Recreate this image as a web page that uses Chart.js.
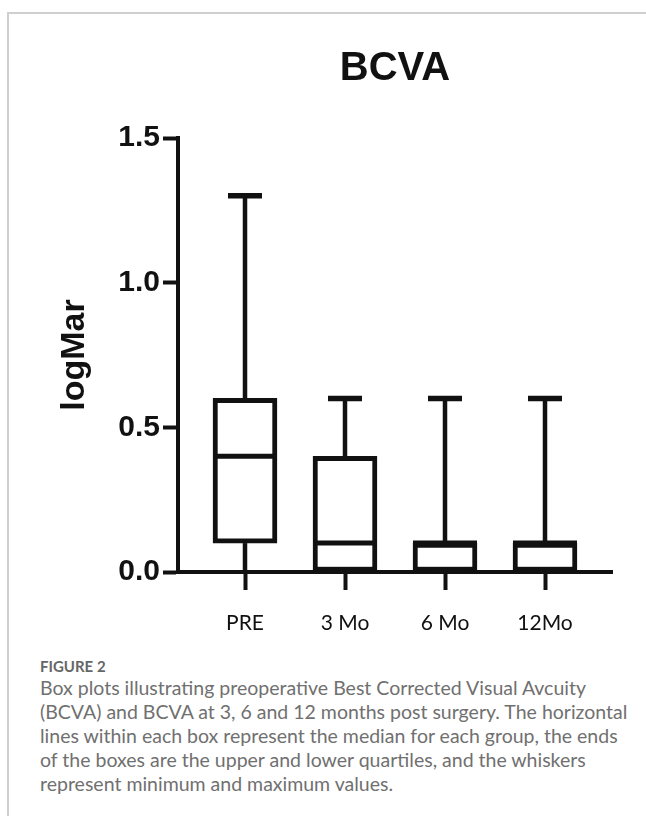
<!DOCTYPE html>
<html>
<head>
<meta charset="utf-8">
<script src="https://cdn.jsdelivr.net/npm/chart.js@4/dist/chart.umd.min.js"></script>
<style>
  html, body { margin: 0; padding: 0; background: #fff; }
  body { width: 646px; height: 816px; position: relative; overflow: hidden; }
  #frame { position: absolute; left: 7px; top: 12px; right: -5px; bottom: -5px;
           border-top: 2px solid #cfcfcf; border-left: 2px solid #cfcfcf; }
  #wrap { position: absolute; left: 0; top: 0; width: 646px; height: 640px; }
  #caption { position: absolute; left: 40px; top: 656px; width: 604px; color: #707070;
             font-family: Lato, "Open Sans", sans-serif; }
  #caption .label { font-size: 15px; line-height: 20px; font-weight: bold; color: #666; }
  #caption .text { font-size: 19.5px; line-height: 24px; white-space: nowrap; }
</style>
</head>
<body>
<div id="frame"></div>
<div id="wrap"><canvas id="bcvaChart"></canvas></div>
<div id="caption">
  <div class="label">FIGURE 2</div>
  <div class="text">Box plots illustrating preoperative Best Corrected Visual Avcuity<br>(BCVA) and BCVA at 3, 6 and 12 months post surgery. The horizontal<br>lines within each box represent the median for each group, the ends<br>of the boxes are the upper and lower quartiles, and the whiskers<br>represent minimum and maximum values.</div>
</div>
<script>
// box plot values (logMar)
var categories = ['PRE', '3 Mo', '6 Mo', '12Mo'];
var minValues = [0, 0, 0, 0];
var q1Values = [0.1, 0, 0, 0];
var medianValues = [0.4, 0.1, 0.1, 0.1];
var q3Values = [0.6, 0.4, 0.1, 0.1];
var maxValues = [1.3, 0.6, 0.6, 0.6];
var yTicks = [0, 0.5, 1.0, 1.5];

var ink = '#111111';

// medians + whiskers on top of the floating bars
var whiskerPlugin = {
  id: 'whiskers',
  afterDatasetsDraw: function(chart) {
    var ctx = chart.ctx;
    var x = chart.scales.x, y = chart.scales.y;
    var bars = chart.getDatasetMeta(0).data;
    function seg(x1, y1, x2, y2, w) {
      ctx.lineWidth = w;
      ctx.beginPath();
      ctx.moveTo(x1, y1);
      ctx.lineTo(x2, y2);
      ctx.stroke();
    }
    ctx.save();
    ctx.strokeStyle = ink;
    ctx.lineCap = 'butt';
    categories.forEach(function(c, i) {
      var cx = x.getPixelForValue(i);
      var half = bars[i].width / 2;
      var cap = 17;
      seg(cx - half, y.getPixelForValue(medianValues[i]), cx + half, y.getPixelForValue(medianValues[i]), 5);
      if (maxValues[i] > q3Values[i]) {
        seg(cx, y.getPixelForValue(q3Values[i]), cx, y.getPixelForValue(maxValues[i]), 4.5);
      }
      seg(cx - cap, y.getPixelForValue(maxValues[i]), cx + cap, y.getPixelForValue(maxValues[i]), 5.5);
      if (q1Values[i] > minValues[i]) {
        seg(cx, y.getPixelForValue(q1Values[i]), cx, y.getPixelForValue(minValues[i]), 4.5);
      }
      seg(cx - cap, y.getPixelForValue(minValues[i]), cx + cap, y.getPixelForValue(minValues[i]), 4);
    });
    ctx.restore();
  }
};

var ctx = document.getElementById('bcvaChart');
new Chart(ctx, {
  type: 'bar',
  data: {
    datasets: [{
      label: 'BCVA',
      data: categories.map(function(c, i) { return { x: i, y: [q1Values[i], q3Values[i]] }; }),
      backgroundColor: '#ffffff',
      borderColor: ink,
      borderWidth: 5,
      borderSkipped: false,
      barThickness: 64,
      clip: false
    }]
  },
  options: {
    responsive: true,
    maintainAspectRatio: false,
    animation: false,
    layout: { padding: { left: 50, right: 34, top: 30, bottom: 0 } },
    plugins: {
      legend: { display: false },
      tooltip: { enabled: false },
      title: {
        display: true,
        text: 'BCVA',
        fullSize: false,
        color: ink,
        font: { family: '"Liberation Sans", Arial, sans-serif', size: 40, weight: 'bold' },
        padding: { top: 15, bottom: 45 }
      }
    },
    scales: {
      x: {
        type: 'linear',
        min: -0.67,
        max: 3.67,
        offset: false,
        afterBuildTicks: function(scale) {
          scale.ticks = categories.map(function(c, i) { return { value: i }; });
        },
        afterFit: function(scale) { scale.height = 68; },
        ticks: {
          autoSkip: false,
          maxRotation: 0,
          padding: 21,
          color: ink,
          font: { family: 'Lato, "Open Sans", sans-serif', size: 21 },
          callback: function(v) { return categories[v]; }
        },
        grid: { offset: false, drawOnChartArea: false, tickLength: 18, tickWidth: 4, tickColor: ink, color: ink },
        border: { display: true, width: 4, color: ink }
      },
      y: {
        min: 0,
        max: 1.5,
        afterBuildTicks: function(scale) {
          scale.ticks = yTicks.map(function(v) { return { value: v }; });
        },
        afterFit: function(scale) { scale.width = 128; },
        ticks: {
          padding: 3,
          color: ink,
          font: { family: '"Liberation Sans", Arial, sans-serif', size: 30, weight: 'bold' },
          callback: function(v) { return v.toFixed(1); }
        },
        grid: { drawOnChartArea: false, tickLength: 15, tickWidth: 4, tickColor: ink, color: ink },
        border: { display: true, width: 4, color: ink },
        title: {
          display: true,
          text: 'logMar',
          color: ink,
          font: { family: '"Liberation Sans", Arial, sans-serif', size: 34, weight: 'bold' }
        }
      }
    }
  },
  plugins: [whiskerPlugin]
});
</script>
</body>
</html>
